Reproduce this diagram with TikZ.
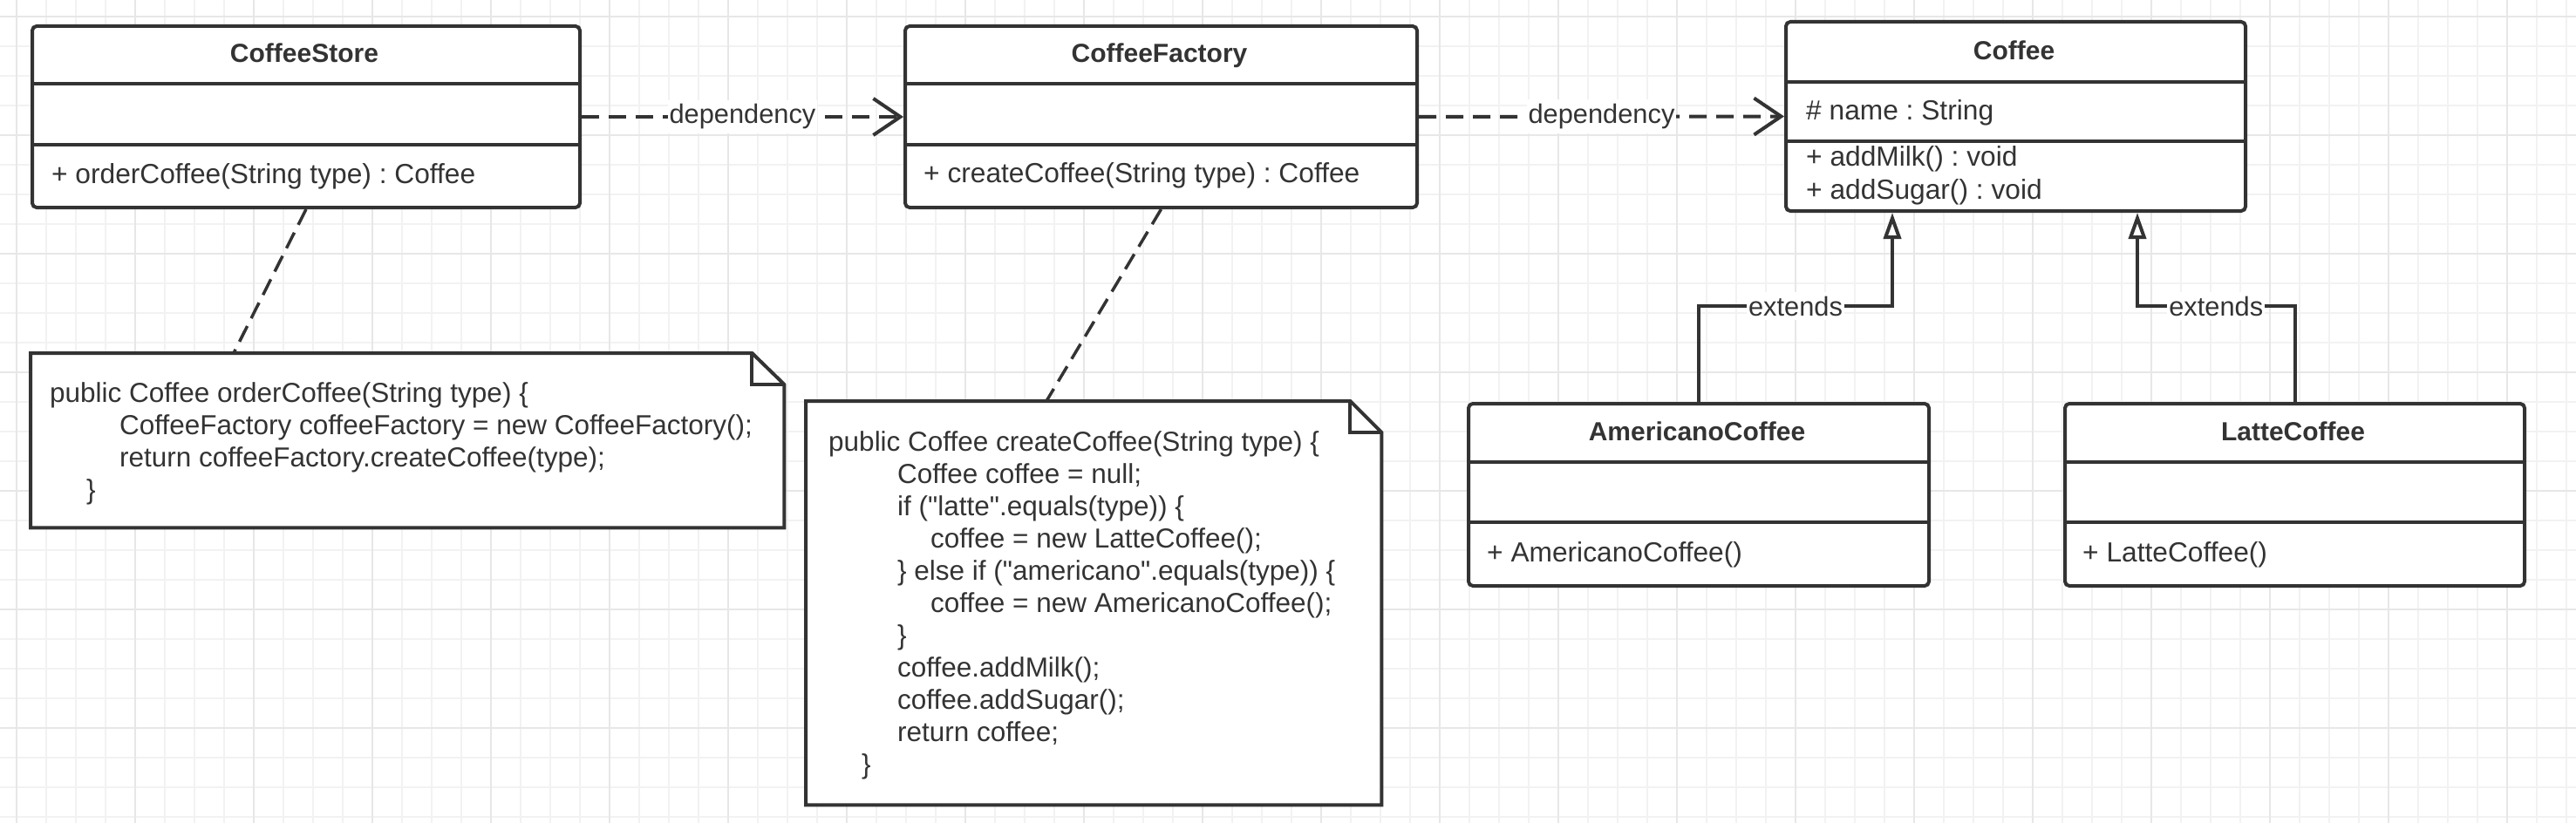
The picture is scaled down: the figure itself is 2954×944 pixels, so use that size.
\documentclass[tikz,border=0pt]{standalone}
\usepackage{fontspec}
\setmainfont{Liberation Sans}[Ligatures=TeXOff]
\usetikzlibrary{arrows.meta}
\frenchspacing
\definecolor{ink}{HTML}{333333}
\definecolor{gridminor}{RGB}{242,242,242}
\definecolor{gridmajor}{RGB}{231,231,231}
\tikzset{
 classbox/.style={draw=ink, line width=4pt, fill=white, rounded corners=5pt, anchor=north west, inner sep=0pt},
 notebox/.style={anchor=north west, inner sep=0pt},
 noteline/.style={draw=ink, line width=4pt, fill=white, line join=miter},
 divider/.style={draw=ink, line width=4pt},
 titletext/.style={font=\fontsize{30}{36}\selectfont\bfseries\frenchspacing, text=ink, anchor=base, inner sep=0pt},
 member/.style={font=\fontsize{31.7}{37}\selectfont\frenchspacing, text=ink, anchor=base west, inner sep=0pt},
 codetext/.style={font=\fontsize{31.5}{37}\selectfont\frenchspacing, text=ink, anchor=base west, inner sep=0pt},
 lbl/.style={font=\fontsize{30.8}{36}\selectfont, text=ink, fill=white, inner xsep=2pt, inner ysep=5pt},
 dep/.style={draw=ink, line width=4pt, dash pattern=on 20pt off 11pt, -{Straight Barb[length=31pt,width=42pt]}},
 notelink/.style={draw=ink, line width=3.5pt, dash pattern=on 20pt off 10pt},
 ext/.style={draw=ink, line width=4pt, -{Triangle[length=30pt,width=20pt,fill=white]}},
 gminor/.style={draw=gridminor, line width=1.8pt},
 gmajor/.style={draw=gridmajor, line width=1.8pt},
}
\begin{document}
\begin{tikzpicture}[x=1pt,y=-1pt]
\useasboundingbox (0,0) rectangle (2954,944);
\fill[white] (0,0) rectangle (2954,944);
% grid
\foreach \i in {0,...,86} {\draw[gminor] (19+34*\i,0) -- (19+34*\i,944);}
\foreach \j in {0,...,27} {\draw[gminor] (0,18.7+34*\j) -- (2954,18.7+34*\j);}
\foreach \i in {0,...,21} {\draw[gmajor] (19+136*\i,0) -- (19+136*\i,944);}
\foreach \j in {0,...,6} {\draw[gmajor] (0,18.7+136*\j) -- (2954,18.7+136*\j);}

% class boxes
\node[classbox, minimum width=628pt, minimum height=208pt] (store) at (35,28) {};
\node[classbox, minimum width=587pt, minimum height=208pt] (factory) at (1036,28) {};
\node[classbox, minimum width=527pt, minimum height=217pt] (coffee) at (2046,23) {};
\node[classbox, minimum width=528pt, minimum height=209pt] (amer) at (1682,461) {};
\node[classbox, minimum width=527pt, minimum height=209pt] (latte) at (2366,461) {};

% dividers
\draw[divider] (35,96) -- (663,96);
\draw[divider] (35,166) -- (663,166);
\draw[divider] (1036,96) -- (1623,96);
\draw[divider] (1036,166) -- (1623,166);
\draw[divider] (2046,94) -- (2573,94);
\draw[divider] (2046,162) -- (2573,162);
\draw[divider] (1682,530) -- (2210,530);
\draw[divider] (1682,599) -- (2210,599);
\draw[divider] (2366,530) -- (2893,530);
\draw[divider] (2366,599) -- (2893,599);

% class texts
\node[titletext] (storeT) at (349,72) {CoffeeStore};
\node[member] (storeM) at (59,211) {+ orderCoffee(String type) : Coffee};
\node[titletext] (factoryT) at (1329.5,72) {CoffeeFactory};
\node[member] (factoryM) at (1059,210) {+ createCoffee(String type) : Coffee};
\node[titletext] (coffeeT) at (2309.5,69) {Coffee};
\node[member] (coffeeA) at (2071,138) {\# name : String};
\node[member] (coffeeM1) at (2071,191) {+ addMilk() : void};
\node[member] (coffeeM2) at (2071,228) {+ addSugar() : void};
\node[titletext] (amerT) at (1946,505) {AmericanoCoffee};
\node[member] (amerM) at (1705,644) {+ AmericanoCoffee()};
\node[titletext] (latteT) at (2629.5,505) {LatteCoffee};
\node[member] (latteM) at (2388,644) {+ LatteCoffee()};

% notes
\node[notebox, minimum width=864pt, minimum height=200pt] (note1) at (35,405) {};
\draw[noteline] (note1.north west) -- ([xshift=-37pt]note1.north east) -- ([yshift=-36pt]note1.north east) -- (note1.south east) -- (note1.south west) -- cycle;
\draw[noteline, fill=none] ([xshift=-37pt]note1.north east) -- ([xshift=-37pt,yshift=-36pt]note1.north east) -- ([yshift=-36pt]note1.north east);
\node[notebox, minimum width=660pt, minimum height=463pt] (note2) at (924,460) {};
\draw[noteline] (note2.north west) -- ([xshift=-36pt]note2.north east) -- ([yshift=-36pt]note2.north east) -- (note2.south east) -- (note2.south west) -- cycle;
\draw[noteline, fill=none] ([xshift=-36pt]note2.north east) -- ([xshift=-36pt,yshift=-36pt]note2.north east) -- ([yshift=-36pt]note2.north east);

% note texts
\node[codetext] (n1a) at (57,461) {public Coffee orderCoffee(String type) \{};
\node[codetext] (n1b) at (137,498) {CoffeeFactory coffeeFactory = new CoffeeFactory();};
\node[codetext] (n1c) at (137,535) {return coffeeFactory.createCoffee(type);};
\node[codetext] (n1d) at (99,572) {\}};

\node[codetext] (n2a) at (950,517) {public Coffee createCoffee(String type) \{};
\node[codetext] (n2b) at (1029,554) {Coffee coffee = null;};
\node[codetext] (n2c) at (1029,591) {if ("latte".equals(type)) \{};
\node[codetext] (n2d) at (1067,628) {coffee = new LatteCoffee();};
\node[codetext] (n2e) at (1029,665) {\} else if ("americano".equals(type)) \{};
\node[codetext] (n2f) at (1067,702) {coffee = new AmericanoCoffee();};
\node[codetext] (n2g) at (1029,739) {\}};
\node[codetext] (n2h) at (1029,776) {coffee.addMilk();};
\node[codetext] (n2i) at (1029,813) {coffee.addSugar();};
\node[codetext] (n2j) at (1029,850) {return coffee;};
\node[codetext] (n2k) at (988,887) {\}};

% note links
\draw[notelink] (store.south) -- ([xshift=233pt]note1.north west);
\draw[notelink] (factory.south) -- ([xshift=276pt]note2.north west);

% dependencies
\draw[dep] (store.east) -- node[lbl] (dep1) {dependency} (factory.west);
\draw[dep] (factory.east) -- node[lbl] (dep2) {dependency} (coffee.west);

% generalizations
\coordinate (t1) at ([xshift=124pt]coffee.south west);
\coordinate (t2) at ([xshift=405pt]coffee.south west);
\coordinate (hy) at (0,351);
\draw[ext] (amer.north) -- (amer.north |- hy) -- node[lbl] (ext1) {extends} (t1 |- hy) -- (t1);
\draw[ext] (latte.north) -- (latte.north |- hy) -- node[lbl] (ext2) {extends} (t2 |- hy) -- (t2);
\end{tikzpicture}
\end{document}
